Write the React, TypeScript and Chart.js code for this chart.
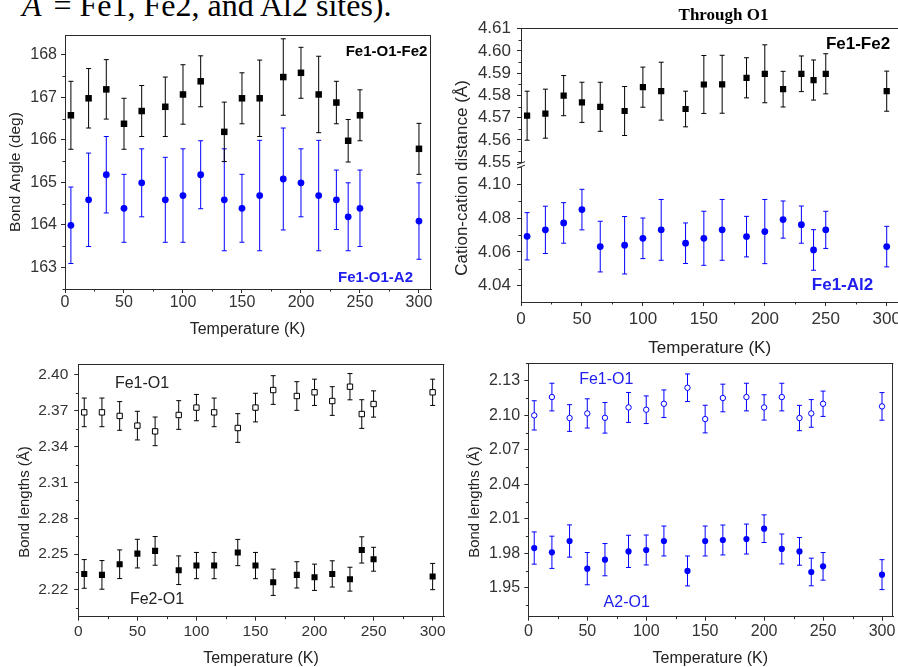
import React, { useEffect, useRef } from 'react';
import { Chart, registerables } from 'chart.js';

Chart.register(...registerables);

const SANS = "'Liberation Sans', Arial, Helvetica, sans-serif";
const SERIF = "'Liberation Serif', 'Times New Roman', serif";
const AXIS_COLOR = '#2b2b2b';
const TICK_TEXT = '#333333';
const TITLE_TEXT = '#222222';
const BLACK = '#000000';
const BLUE = '#0000ff';
const LABEL_BLUE = '#2020ee';
const TICK_LEN = 4;
const MINOR_LEN = 2.5;
const CAP = 2.5;
const X_AXIS_H = 30;

// ---- data ----
const temperatures = [5, 20, 35, 50, 65, 85, 100, 115, 135, 150, 165, 185, 200, 215, 230, 240, 250, 300];
const temperatureTicks = [0, 50, 100, 150, 200, 250, 300];

// Panel 1: bond angles (deg)
const angleFe1O1Fe2 = [166.58, 166.98, 167.19, 166.38, 166.68, 166.78, 167.07, 167.38, 166.19, 166.98, 166.98, 167.48, 167.58, 167.07, 166.88, 165.98, 166.58, 165.79];
const angleFe1O1Fe2Err = [0.8, 0.7, 0.7, 0.6, 0.6, 0.7, 0.7, 0.6, 0.7, 0.6, 0.9, 0.9, 0.6, 0.9, 0.5, 0.5, 0.6, 0.6];
const angleFe1O1A2 = [163.99, 164.59, 165.18, 164.39, 164.99, 164.59, 164.69, 165.18, 164.59, 164.39, 164.69, 165.08, 164.99, 164.69, 164.59, 164.19, 164.39, 164.09];
const angleFe1O1A2Err = [0.9, 1.1, 0.9, 0.8, 0.8, 1.0, 1.1, 0.8, 1.2, 0.8, 1.3, 1.2, 0.8, 1.3, 0.7, 0.8, 0.9, 0.9];
const angleTicks = [163, 164, 165, 166, 167, 168];

// Panel 2: cation-cation distances through O1 (Å)
const distFe1Fe2 = [4.5709, 4.5718, 4.5799, 4.5769, 4.5749, 4.573, 4.5837, 4.5819, 4.5739, 4.5849, 4.585, 4.5879, 4.5897, 4.5828, 4.5897, 4.5869, 4.5897, 4.5819];
const distFe1Fe2Err = [0.011, 0.011, 0.009, 0.009, 0.011, 0.011, 0.009, 0.013, 0.008, 0.013, 0.013, 0.009, 0.013, 0.008, 0.008, 0.009, 0.009, 0.009];
const distFe1Al2 = [4.0692, 4.073, 4.0771, 4.085, 4.0631, 4.0639, 4.068, 4.073, 4.0651, 4.068, 4.073, 4.069, 4.072, 4.0791, 4.0761, 4.0611, 4.073, 4.0631];
const distFe1Al2Err = [0.014, 0.014, 0.012, 0.012, 0.015, 0.017, 0.012, 0.018, 0.012, 0.016, 0.018, 0.012, 0.019, 0.011, 0.011, 0.012, 0.011, 0.012];
const distUpperTicks = [4.55, 4.56, 4.57, 4.58, 4.59, 4.6, 4.61];
const distLowerTicks = [4.04, 4.06, 4.08, 4.1];

// Panel 3: Fe bond lengths (Å)
const bondFe1O1 = [2.3687, 2.3687, 2.3657, 2.3576, 2.3528, 2.3665, 2.3727, 2.3687, 2.3556, 2.3727, 2.3874, 2.3824, 2.3855, 2.3782, 2.3902, 2.3673, 2.3757, 2.3855];
const bondFe1O1Err = [0.012, 0.012, 0.012, 0.012, 0.012, 0.012, 0.011, 0.012, 0.012, 0.012, 0.012, 0.012, 0.011, 0.012, 0.011, 0.012, 0.011, 0.011];
const bondFe2O1 = [2.2334, 2.2326, 2.2415, 2.2504, 2.2527, 2.2365, 2.2404, 2.2404, 2.2513, 2.2404, 2.2264, 2.2326, 2.2306, 2.2334, 2.229, 2.2535, 2.2457, 2.2312];
const bondFe2O1Err = [0.012, 0.012, 0.012, 0.012, 0.012, 0.012, 0.011, 0.011, 0.011, 0.011, 0.011, 0.011, 0.011, 0.011, 0.01, 0.011, 0.01, 0.011];
const bondFeTicks = [2.22, 2.25, 2.28, 2.31, 2.34, 2.37, 2.4];

// Panel 4: bond lengths (Å)
const bondFe1O1b = [2.0999, 2.1158, 2.0976, 2.1016, 2.0978, 2.1068, 2.1048, 2.11, 2.1239, 2.0967, 2.115, 2.1158, 2.1068, 2.1158, 2.0976, 2.1016, 2.11, 2.1077];
const bondFe1O1bErr = [0.0127, 0.012, 0.0116, 0.0127, 0.0133, 0.013, 0.012, 0.012, 0.012, 0.012, 0.012, 0.012, 0.011, 0.012, 0.011, 0.012, 0.011, 0.012];
const bondA2O1 = [1.9847, 1.981, 1.9908, 1.9668, 1.9746, 1.9818, 1.983, 1.9908, 1.9648, 1.9908, 1.9917, 1.9925, 2.0015, 1.9839, 1.9818, 1.9639, 1.9688, 1.9616];
const bondA2O1Err = [0.014, 0.014, 0.014, 0.014, 0.014, 0.014, 0.013, 0.013, 0.013, 0.013, 0.013, 0.013, 0.012, 0.013, 0.012, 0.012, 0.012, 0.013];
const bondA2Ticks = [1.95, 1.98, 2.01, 2.04, 2.07, 2.1, 2.13];

// ---- helpers ----
type Series = {
  label: string; values: number[]; errors: number[]; color: string;
  shape: 'rect' | 'circle'; radius: number; open?: boolean; axis?: string;
};
type AxisSpec = { id: string; min: number; max: number; ticks: number[]; decimals: number; weight?: number };
type Rect = { left: number; top: number; width: number; height: number };
type PanelSpec = {
  rect: Rect;
  area: { left: number; top: number; right: number; bottom: number };
  xMax: number; tickFont: number; xTickPad: number; yTickPad: number;
  yAxes: AxisSpec[]; series: Series[]; frameRight: boolean; breakMark?: boolean;
};

function minorTicks(ticks: number[], min: number, max: number) {
  const out: number[] = [];
  for (let i = 0; i < ticks.length - 1; i++) out.push((ticks[i] + ticks[i + 1]) / 2);
  const step = ticks[1] - ticks[0];
  const first = ticks[0] - step / 2;
  const last = ticks[ticks.length - 1] + step / 2;
  if (first > min) out.unshift(first);
  if (last < max) out.push(last);
  return out;
}

const errorBarPlugin = {
  id: 'errorBars',
  beforeDatasetDraw(chart: any, args: any) {
    const ds = chart.data.datasets[args.index];
    const meta = args.meta;
    const yScale = chart.scales[meta.yAxisID];
    const ctx = chart.ctx;
    ctx.save();
    ctx.strokeStyle = ds.errorColor;
    ctx.lineWidth = 1;
    meta.data.forEach((pt: any, i: number) => {
      const v = ds.data[i].y;
      const e = ds.errors[i];
      const yt = yScale.getPixelForValue(v + e);
      const yb = yScale.getPixelForValue(v - e);
      const x = pt.x;
      ctx.beginPath();
      ctx.moveTo(x, yt); ctx.lineTo(x, yb);
      ctx.moveTo(x - CAP, yt); ctx.lineTo(x + CAP, yt);
      ctx.moveTo(x - CAP, yb); ctx.lineTo(x + CAP, yb);
      ctx.stroke();
    });
    ctx.restore();
  },
};

function makeFramePlugin(spec: PanelSpec) {
  return {
    id: 'frame',
    afterDraw(chart: any) {
      const { ctx, chartArea: a } = chart;
      ctx.save();
      ctx.strokeStyle = AXIS_COLOR;
      ctx.lineWidth = 1;
      ctx.beginPath();
      const ty = Math.round(a.top) + 0.5;
      ctx.moveTo(a.left, ty); ctx.lineTo(a.right, ty);
      if (spec.frameRight) {
        const rx = Math.round(a.right) - 0.5;
        ctx.moveTo(rx, a.top); ctx.lineTo(rx, a.bottom);
      }
      // minor x ticks
      const xs = chart.scales.x;
      minorTicks(temperatureTicks, 0, spec.xMax).forEach((v) => {
        const px = Math.round(xs.getPixelForValue(v)) + 0.5;
        ctx.moveTo(px, xs.top); ctx.lineTo(px, xs.top + MINOR_LEN);
      });
      // minor y ticks
      spec.yAxes.forEach((ax) => {
        const ys = chart.scales[ax.id];
        minorTicks(ax.ticks, ax.min, ax.max).forEach((v) => {
          const py = Math.round(ys.getPixelForValue(v)) + 0.5;
          ctx.moveTo(ys.right - MINOR_LEN, py); ctx.lineTo(ys.right, py);
        });
      });
      ctx.stroke();
      if (spec.breakMark) {
        const up = chart.scales[spec.yAxes[0].id];
        const y0 = up.bottom;
        const x0 = a.left;
        ctx.fillStyle = '#ffffff';
        ctx.fillRect(x0 - 2, y0 - 2, 4, 4);
        ctx.beginPath();
        ctx.moveTo(x0 - 4, y0 - 0.5); ctx.lineTo(x0 + 4, y0 - 3.5);
        ctx.moveTo(x0 - 4, y0 + 3); ctx.lineTo(x0 + 4, y0);
        ctx.stroke();
      }
      ctx.restore();
    },
  };
}

function buildConfig(spec: PanelSpec): any {
  const { rect, area } = spec;
  const yWidth = area.left - rect.left;
  const padding = {
    left: 0,
    top: area.top - rect.top,
    right: rect.left + rect.width - area.right,
    bottom: rect.top + rect.height - area.bottom - X_AXIS_H,
  };
  const font = { family: SANS, size: spec.tickFont };
  const grid = { drawOnChartArea: false, drawTicks: true, tickLength: TICK_LEN, color: AXIS_COLOR, lineWidth: 1 };
  const border = { display: true, color: AXIS_COLOR, width: 1 };
  const scales: any = {
    x: {
      type: 'linear', position: 'bottom', min: 0, max: spec.xMax,
      afterBuildTicks: (s: any) => { s.ticks = temperatureTicks.map((v) => ({ value: v })); },
      afterFit: (s: any) => { s.height = X_AXIS_H; },
      ticks: { font, color: TICK_TEXT, padding: spec.xTickPad, autoSkip: false, maxRotation: 0, minRotation: 0, callback: (v: any) => String(v) },
      grid, border,
    },
  };
  const stacked = spec.yAxes.length > 1;
  spec.yAxes.forEach((ax) => {
    scales[ax.id] = {
      type: 'linear', position: 'left', min: ax.min, max: ax.max,
      ...(stacked ? { stack: 'leftStack', stackWeight: 1, weight: ax.weight } : {}),
      afterBuildTicks: (s: any) => { s.ticks = ax.ticks.map((v) => ({ value: v })); },
      afterFit: (s: any) => { s.width = yWidth; },
      ticks: { font, color: TICK_TEXT, padding: spec.yTickPad, autoSkip: false, callback: (v: any) => Number(v).toFixed(ax.decimals) },
      grid, border,
    };
  });
  return {
    type: 'scatter',
    data: {
      datasets: spec.series.map((s) => ({
        label: s.label,
        data: temperatures.map((t, i) => ({ x: t, y: s.values[i] })),
        errors: s.errors,
        errorColor: s.color,
        yAxisID: s.axis || spec.yAxes[0].id,
        pointStyle: s.shape,
        pointRadius: s.radius,
        pointHoverRadius: s.radius,
        pointBackgroundColor: s.open ? '#ffffff' : s.color,
        pointBorderColor: s.color,
        pointBorderWidth: s.open ? 1 : 0,
        showLine: false,
      })),
    },
    options: {
      responsive: false,
      animation: false,
      devicePixelRatio: 1,
      events: [],
      layout: { padding, autoPadding: false },
      plugins: { legend: { display: false }, tooltip: { enabled: false } },
      scales,
    },
    plugins: [errorBarPlugin, makeFramePlugin(spec)],
  };
}

// ---- panel specs ----
const panelAngles: PanelSpec = {
  rect: { left: 0, top: 20, width: 445, height: 320 },
  area: { left: 65, top: 35, right: 431, bottom: 289 },
  xMax: 310.2, tickFont: 16, xTickPad: 0, yTickPad: 4,
  yAxes: [{ id: 'y', min: 162.49, max: 168.47, ticks: angleTicks, decimals: 0 }],
  series: [
    { label: 'Fe1-O1-Fe2', values: angleFe1O1Fe2, errors: angleFe1O1Fe2Err, color: BLACK, shape: 'rect', radius: 4.6 },
    { label: 'Fe1-O1-A2', values: angleFe1O1A2, errors: angleFe1O1A2Err, color: BLUE, shape: 'circle', radius: 3.4 },
  ],
  frameRight: true,
};

const panelDistances: PanelSpec = {
  rect: { left: 445, top: 0, width: 460, height: 362 },
  area: { left: 521, top: 28.33, right: 900, bottom: 302 },
  xMax: 310.9, tickFont: 17, xTickPad: 3, yTickPad: 6,
  yAxes: [
    { id: 'yUpper', min: 4.5487, max: 4.6101, ticks: distUpperTicks, decimals: 2, weight: 2 },
    { id: 'yLower', min: 4.0303, max: 4.1113, ticks: distLowerTicks, decimals: 2, weight: 1 },
  ],
  series: [
    { label: 'Fe1-Fe2', values: distFe1Fe2, errors: distFe1Fe2Err, color: BLACK, shape: 'rect', radius: 4.4, axis: 'yUpper' },
    { label: 'Fe1-Al2', values: distFe1Al2, errors: distFe1Al2Err, color: BLUE, shape: 'circle', radius: 3.4, axis: 'yLower' },
  ],
  frameRight: false,
  breakMark: true,
};

const panelFeBonds: PanelSpec = {
  rect: { left: 0, top: 345, width: 450, height: 322 },
  area: { left: 78.33, top: 364, right: 444.33, bottom: 616.67 },
  xMax: 309.9, tickFont: 15.5, xTickPad: 2, yTickPad: 6,
  yAxes: [{ id: 'y', min: 2.1976, max: 2.4092, ticks: bondFeTicks, decimals: 2 }],
  series: [
    { label: 'Fe1-O1', values: bondFe1O1, errors: bondFe1O1Err, color: BLACK, shape: 'rect', radius: 3.8, open: true },
    { label: 'Fe2-O1', values: bondFe2O1, errors: bondFe2O1Err, color: BLACK, shape: 'rect', radius: 4.3 },
  ],
  frameRight: true,
};

const panelA2Bonds: PanelSpec = {
  rect: { left: 450, top: 345, width: 448, height: 322 },
  area: { left: 528.33, top: 363.33, right: 893.33, bottom: 616.67 },
  xMax: 309.6, tickFont: 16, xTickPad: 1.5, yTickPad: 4.3,
  yAxes: [{ id: 'y', min: 1.9251, max: 2.1451, ticks: bondA2Ticks, decimals: 2 }],
  series: [
    { label: 'Fe1-O1', values: bondFe1O1b, errors: bondFe1O1bErr, color: BLUE, shape: 'circle', radius: 2.7, open: true },
    { label: 'A2-O1', values: bondA2O1, errors: bondA2O1Err, color: BLUE, shape: 'circle', radius: 3.1 },
  ],
  frameRight: true,
};

function ChartCanvas({ spec }: { spec: PanelSpec }) {
  const ref = useRef<HTMLCanvasElement>(null);
  useEffect(() => {
    const chart = new Chart(ref.current as HTMLCanvasElement, buildConfig(spec));
    return () => chart.destroy();
  }, [spec]);
  const r = spec.rect;
  return (
    <canvas
      ref={ref}
      width={r.width}
      height={r.height}
      style={{ position: 'absolute', left: r.left, top: r.top, width: r.width, height: r.height }}
    />
  );
}

function Text(props: { x: number; y: number; size: number; text: string; color?: string; bold?: boolean; rotate?: boolean; family?: string }) {
  const { x, y, size, text, color = TITLE_TEXT, bold, rotate, family = SANS } = props;
  return (
    <div
      style={{
        position: 'absolute', left: x, top: y,
        transform: `translate(-50%, -50%)${rotate ? ' rotate(-90deg)' : ''}`,
        fontSize: size, lineHeight: 1, whiteSpace: 'nowrap', color,
        fontWeight: bold ? 700 : 400, fontFamily: family,
      }}
    >
      {text}
    </div>
  );
}

export default function App() {
  return (
    <div style={{ position: 'absolute', left: 0, top: 0, width: 898, height: 667, overflow: 'hidden', background: '#ffffff' }}>
      <div style={{ position: 'absolute', left: 22, top: -10.8, fontFamily: SERIF, fontSize: 32, lineHeight: '32px', whiteSpace: 'nowrap', color: '#000' }}>
        <span style={{ fontStyle: 'italic' }}>A</span>
        <sup style={{ fontSize: 18, lineHeight: 0 }}>′</sup> = Fe1, Fe2, and Al2 sites).
      </div>
      <ChartCanvas spec={panelAngles} />
      <ChartCanvas spec={panelDistances} />
      <ChartCanvas spec={panelFeBonds} />
      <ChartCanvas spec={panelA2Bonds} />

      <Text x={15} y={171.7} size={15.5} text="Bond Angle (deg)" rotate />
      <Text x={247.5} y={329.3} size={16} text="Temperature (K)" />
      <Text x={386.5} y={50} size={15} text="Fe1-O1-Fe2" bold color={BLACK} />
      <Text x={375.5} y={276} size={15} text="Fe1-O1-A2" bold color={LABEL_BLUE} />

      <Text x={723.5} y={14} size={17} text="Through O1" bold color={BLACK} family={SERIF} />
      <Text x={461.3} y={178.3} size={17} text="Cation-cation distance (Å)" rotate />
      <Text x={709.7} y={347.3} size={17} text="Temperature (K)" />
      <Text x={858} y={43.3} size={17} text="Fe1-Fe2" bold color={BLACK} />
      <Text x={842.5} y={284.3} size={17} text="Fe1-Al2" bold color={LABEL_BLUE} />

      <Text x={22.5} y={501.7} size={15} text="Bond lengths (Å)" rotate />
      <Text x={261} y={658.3} size={16} text="Temperature (K)" />
      <Text x={142} y={383.3} size={16} text="Fe1-O1" color={TITLE_TEXT} />
      <Text x={157} y={599.3} size={16} text="Fe2-O1" color={TITLE_TEXT} />

      <Text x={472.5} y={501.7} size={15} text="Bond lengths (Å)" rotate />
      <Text x={710.3} y={658.3} size={16} text="Temperature (K)" />
      <Text x={606.3} y={379.3} size={16} text="Fe1-O1" color={LABEL_BLUE} />
      <Text x={626.7} y={601.7} size={16} text="A2-O1" color={LABEL_BLUE} />
    </div>
  );
}
